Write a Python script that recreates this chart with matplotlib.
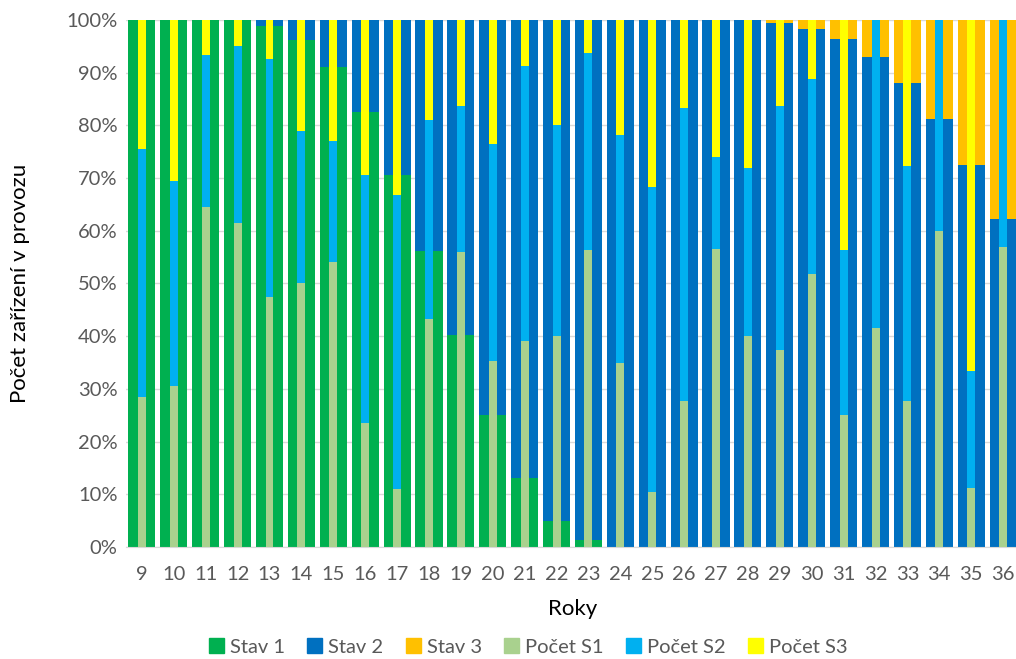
import numpy as np
import matplotlib
matplotlib.use("Agg")
import matplotlib.pyplot as plt
from matplotlib.patches import Patch
from matplotlib.ticker import PercentFormatter

roky = list(range(9, 37))

# Stav (wide bars), percent
stav1 = [100, 100, 100, 100, 98.8, 96.2, 91, 82.5, 70.5, 56.2, 40.3, 25, 13, 5, 1.3,
         0, 0, 0, 0, 0, 0, 0, 0, 0, 0, 0, 0, 0]
stav2 = [0, 0, 0, 0, 1.2, 3.8, 9, 17.5, 29.5, 43.8, 59.7, 75, 87, 95, 98.7,
         100, 100, 100, 100, 100, 99.5, 98.3, 96.3, 93, 88, 81.2, 72.5, 62.2]
stav3 = [100 - a - b for a, b in zip(stav1, stav2)]

# Počet (narrow bars), percent
pocet_s1 = [28.5, 30.5, 64.5, 61.5, 47.5, 50, 54, 23.5, 11, 43.2, 56, 35.3, 39, 40, 56.3,
            35, 10.5, 27.7, 56.5, 40, 37.3, 51.8, 25, 41.6, 27.7, 60, 11.1, 57]
pocet_s2_top = [75.5, 69.5, 93.3, 95, 92.5, 79, 77, 70.5, 66.7, 81, 83.7, 76.5, 91.3, 80, 93.8,
                78.2, 68.3, 83.3, 74, 72, 83.7, 88.8, 56.3, 100, 72.2, 100, 33.3, 100]
pocet_s2 = [t - a for t, a in zip(pocet_s2_top, pocet_s1)]
pocet_s3 = [100 - t for t in pocet_s2_top]

c_stav = ["#00b050", "#0070c0", "#ffc000"]
c_pocet = ["#a9d18e", "#00b0f0", "#ffff00"]
txt = "#595959"

plt.rcParams['font.family'] = ['Lato', 'DejaVu Sans']

fig = plt.figure(figsize=(10.16, 6.59), dpi=100)
ax = fig.add_axes([0.124, 0.170, 0.879, 0.7997])

x = np.arange(len(roky))
wide = 0.85
narrow = 0.25

bottom = np.zeros(len(roky))
for vals, c in zip([stav1, stav2, stav3], c_stav):
    ax.bar(x, vals, wide, bottom=bottom, color=c, zorder=2)
    bottom += np.array(vals)

bottom = np.zeros(len(roky))
for vals, c in zip([pocet_s1, pocet_s2, pocet_s3], c_pocet):
    ax.bar(x, vals, narrow, bottom=bottom, color=c, zorder=3)
    bottom += np.array(vals)

ax.set_xlim(-0.5, len(roky) - 0.5)
ax.set_ylim(0, 100)
ax.set_yticks(np.arange(0, 101, 10))
ax.yaxis.set_major_formatter(PercentFormatter(decimals=0))
ax.set_xticks(x)
ax.set_xticklabels([str(r) for r in roky])
ax.grid(axis='y', color="#d9d9d9", linewidth=1, zorder=0)
ax.set_axisbelow(True)
for s in ["top", "right", "left"]:
    ax.spines[s].set_visible(False)
ax.spines["bottom"].set_color("#d9d9d9")
ax.tick_params(axis='both', length=0, labelsize=14.5, colors=txt)
ax.tick_params(axis='x', pad=14)
ax.tick_params(axis='y', pad=6)
ax.set_xlabel("Roky", fontsize=16, color="black", labelpad=11)
ax.set_ylabel("Počet zařízení v provozu", fontsize=16, color="black", labelpad=26)

labels = ["Stav 1", "Stav 2", "Stav 3", "Počet S1", "Počet S2", "Počet S3"]
handles = [Patch(color=c) for c in c_stav + c_pocet]
fig.legend(handles, labels, loc="center", bbox_to_anchor=(0.52, 0.018), ncol=6,
           frameon=False, fontsize=14.5, labelcolor=txt, handlelength=0.75,
           handleheight=0.75, handletextpad=0.3, columnspacing=1.1)

fig.savefig("out.png", dpi=100)
